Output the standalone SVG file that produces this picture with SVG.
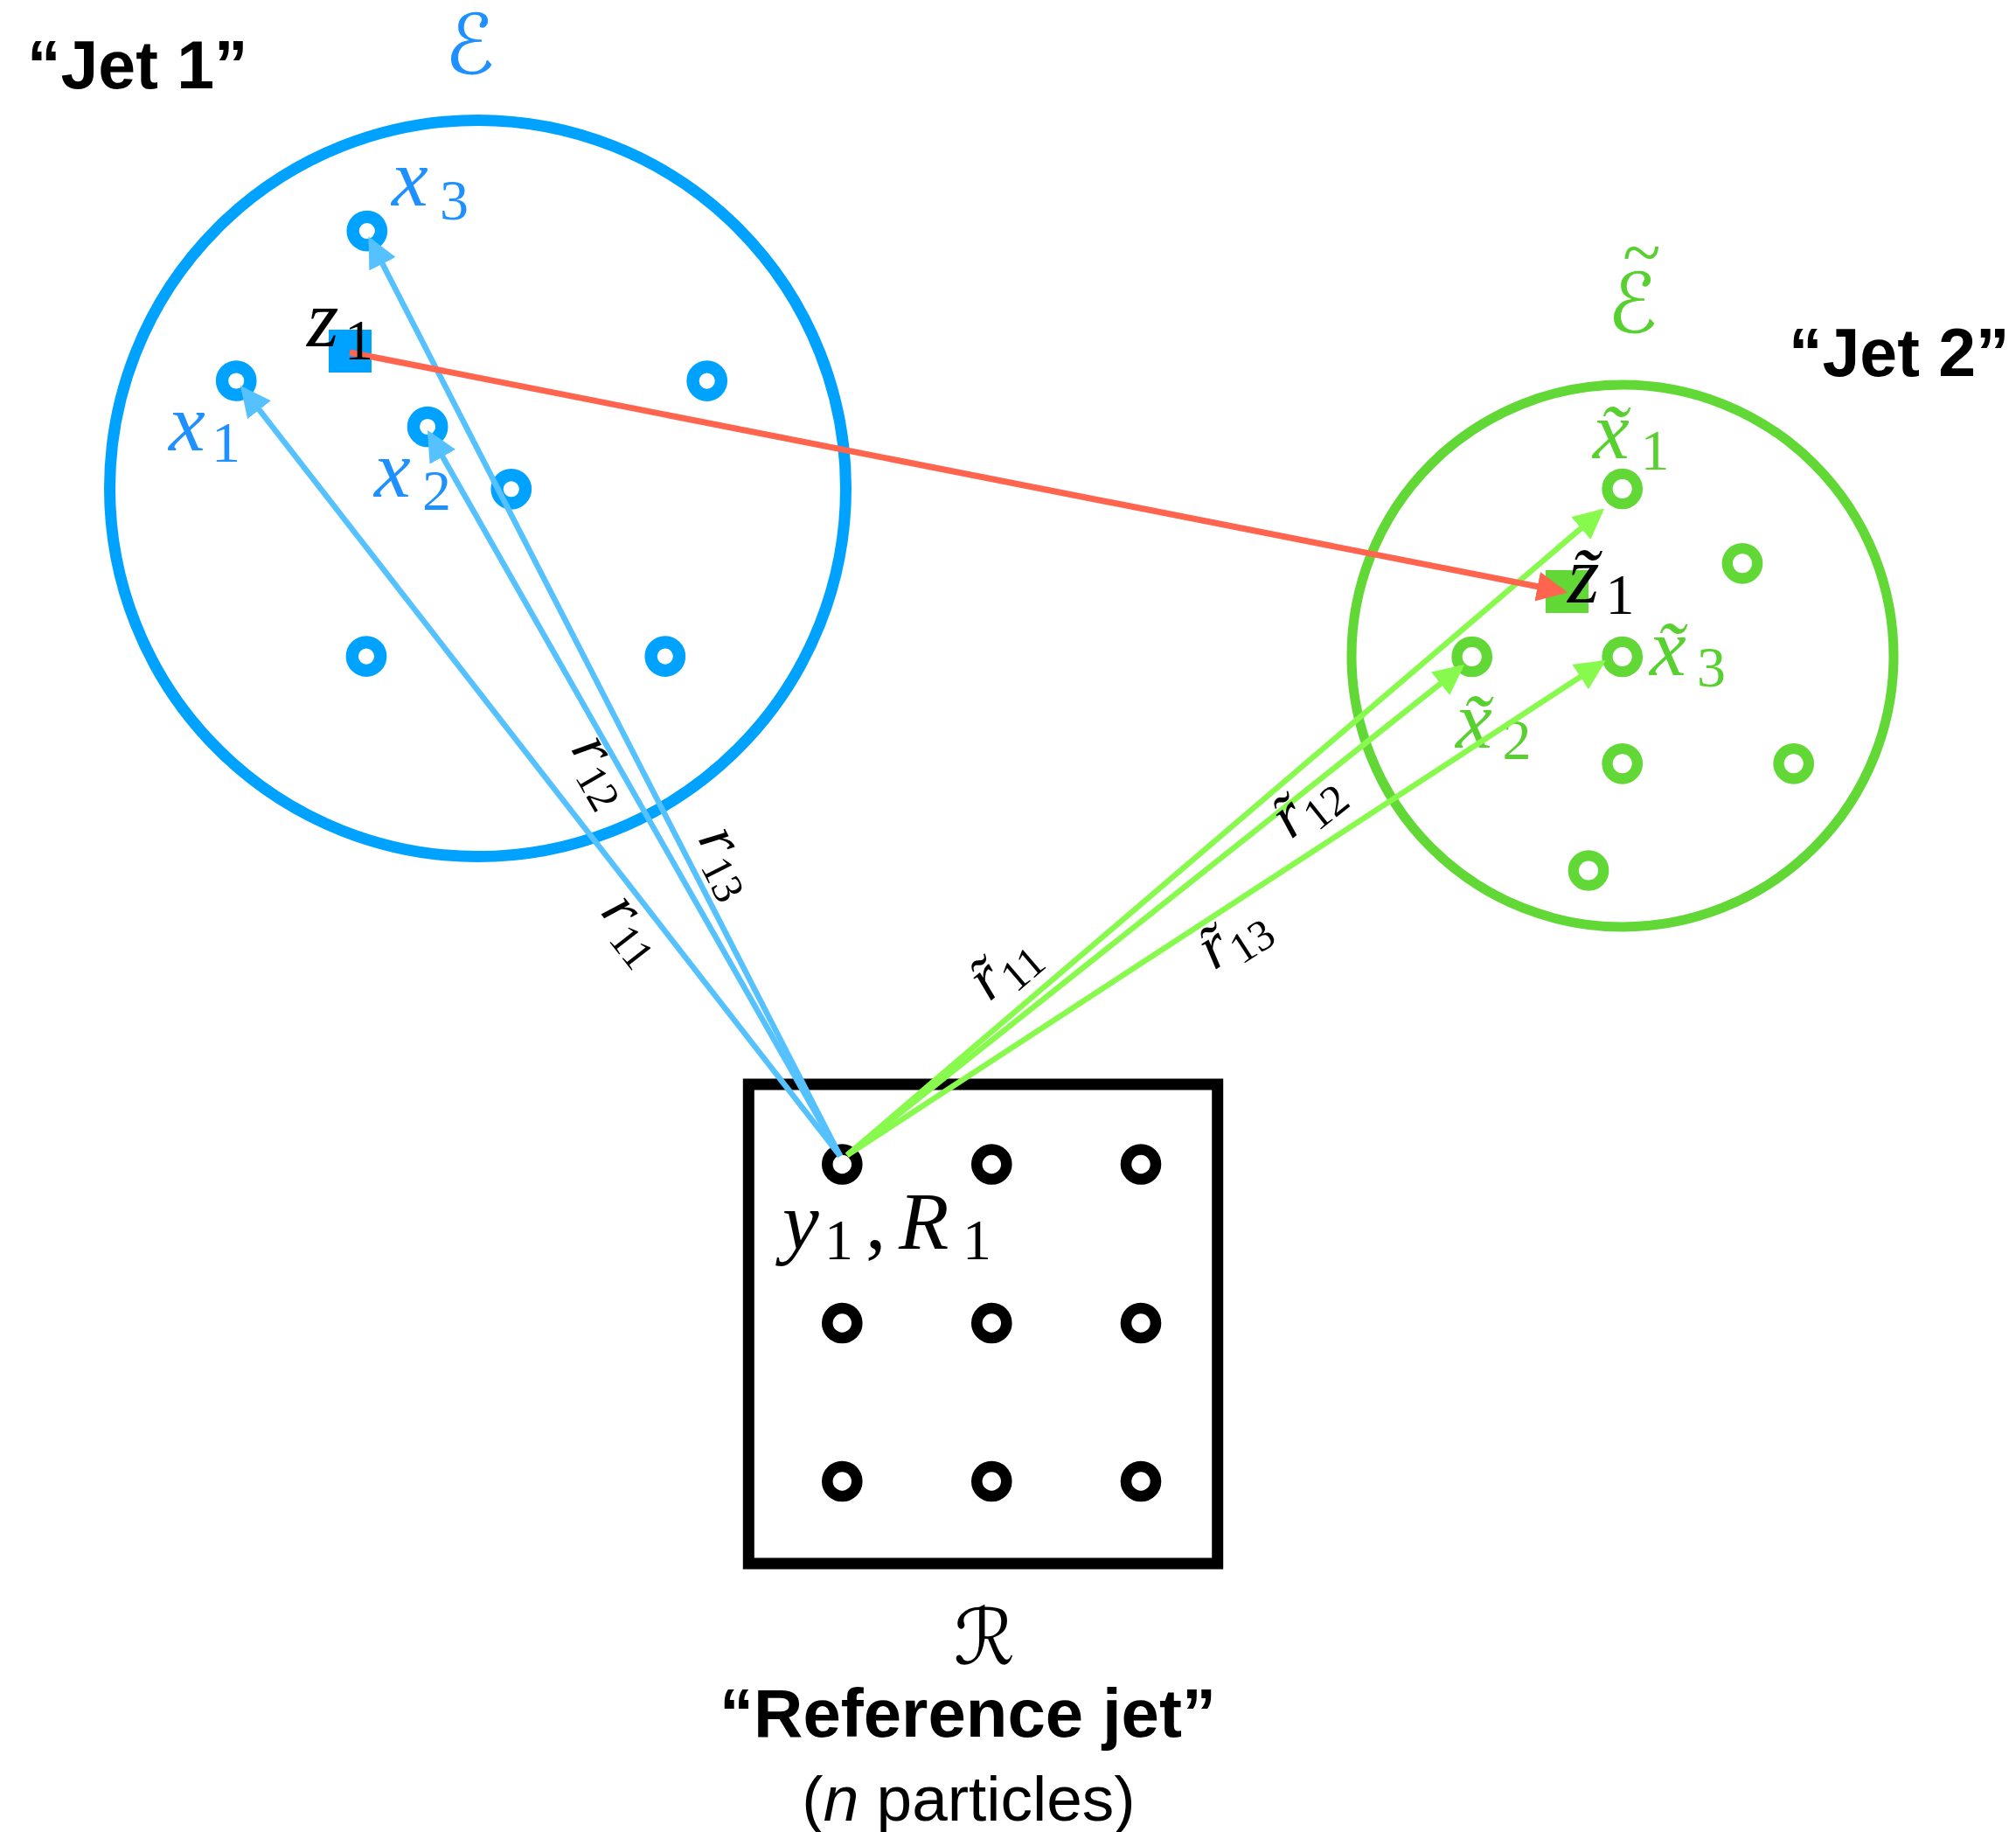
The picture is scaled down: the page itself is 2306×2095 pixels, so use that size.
<svg xmlns="http://www.w3.org/2000/svg" width="2306" height="2095" viewBox="0 0 2306 2095">
<style>
.bg{fill:#fff}
.jet{fill:none;stroke-width:13}
.pb{fill:none;stroke:#00A2FF;stroke-width:14.3}
.pg{fill:none;stroke:#61D836;stroke-width:12.3}
.pk{fill:none;stroke:#000;stroke-width:12.6}
.lb{fill:none;stroke:#56C1FF;stroke-width:6.5}
.lg{fill:none;stroke:#88FA4E;stroke-width:6.5}
.lr{fill:none;stroke:#FF644E;stroke-width:7}
.m{font-family:"Liberation Serif","DejaVu Serif",serif;font-style:italic;font-size:94px}
.s{font-family:"Liberation Serif","DejaVu Serif",serif;font-style:normal;font-size:66px}
.up{font-style:normal}
.rm{font-family:"Liberation Serif","DejaVu Serif",serif;font-style:italic;font-size:72px;fill:#000}
.rs{font-style:normal;font-size:50px}
.cal{font-family:"DejaVu Serif","DejaVu Sans",serif;font-size:95px;text-anchor:middle}
.tl{font-family:"Liberation Serif","DejaVu Serif",serif;font-size:80px}
.tb{fill:#1E90FF}
.tg{fill:#58D030}
.tk{fill:#000}
.bold{font-family:"Liberation Sans",Arial,sans-serif;font-weight:bold;font-size:77px;fill:#000}
.cap{font-family:"Liberation Sans",Arial,sans-serif;text-anchor:middle;fill:#000}
</style>
<defs>
<marker id="ab" markerUnits="userSpaceOnUse" markerWidth="36" markerHeight="36" refX="30" refY="17" orient="auto"><path d="M0,0 L35,17 L0,34 Z" fill="#56C1FF"/></marker>
<marker id="ag" markerUnits="userSpaceOnUse" markerWidth="36" markerHeight="36" refX="30" refY="17" orient="auto"><path d="M0,0 L35,17 L0,34 Z" fill="#88FA4E"/></marker>
<marker id="ar" markerUnits="userSpaceOnUse" markerWidth="36" markerHeight="36" refX="30" refY="17" orient="auto"><path d="M0,0 L35,17 L0,34 Z" fill="#FF644E"/></marker>
</defs>
<rect class="bg" x="0" y="0" width="2306" height="2095"/>

<g id="jet1">
<text class="bold" x="31" y="101">“Jet 1”</text>
<text class="cal tb" x="537" y="84">ℰ</text>
<circle class="jet" cx="546.5" cy="558.5" r="421" stroke="#00A2FF"/>
<circle class="pb" cx="419.8" cy="264.1" r="16.2"/>
<circle class="pb" cx="270.2" cy="435.5" r="16.2"/>
<circle class="pb" cx="489.1" cy="488" r="16.2"/>
<circle class="pb" cx="584.8" cy="559.3" r="16.2"/>
<circle class="pb" cx="808.7" cy="435.6" r="16.2"/>
<circle class="pb" cx="419" cy="750.6" r="16.2"/>
<circle class="pb" cx="760.8" cy="750.6" r="16.2"/>
<rect x="376" y="377" width="49" height="49" fill="#00A2FF"/>
<text class="m tb"><tspan x="448" y="235">x</tspan><tspan class="s" x="503" y="251">3</tspan></text>
<text class="m tb"><tspan x="193" y="515">x</tspan><tspan class="s" x="242" y="528">1</tspan></text>
<text class="m tb"><tspan x="428" y="568">x</tspan><tspan class="s" x="483" y="583">2</tspan></text>
</g>

<g id="jet2">
<text class="bold" x="2046" y="430">“Jet 2”</text>
<text class="cal tg" x="1867" y="380">ℰ<tspan class="tl" x="1878" y="316">~</tspan></text>
<circle class="jet" cx="1856" cy="750" r="310" stroke="#61D836" style="stroke-width:11"/>
<circle class="pg" cx="1855.7" cy="559" r="17.2"/>
<circle class="pg" cx="1993" cy="644.3" r="17.2"/>
<circle class="pg" cx="1855.7" cy="751" r="17.2"/>
<circle class="pg" cx="1683.7" cy="751" r="17.2"/>
<circle class="pg" cx="1855.7" cy="873.3" r="17.2"/>
<circle class="pg" cx="2051.7" cy="873.3" r="17.2"/>
<circle class="pg" cx="1817" cy="995.5" r="17.2"/>
<rect x="1768" y="652" width="49" height="49" fill="#61D836"/>
<text class="m tg"><tspan x="1822" y="524">x&#x303;</tspan><tspan class="s" x="1876.5" y="537">1</tspan></text>
<text class="m tg"><tspan x="1887" y="772">x&#x303;</tspan><tspan class="s" x="1941" y="785">3</tspan></text>
<text class="m tg"><tspan x="1665" y="855">x&#x303;</tspan><tspan class="s" x="1718.5" y="868">2</tspan></text>
</g>

<g id="reference">
<rect x="856.3" y="1240" width="536.4" height="548" fill="none" stroke="#000" stroke-width="13"/>
<circle class="pk" cx="963.3" cy="1331.5" r="17"/>
<circle class="pk" cx="1134.3" cy="1331.5" r="17"/>
<circle class="pk" cx="1305" cy="1331.5" r="17"/>
<circle class="pk" cx="963.3" cy="1513" r="17"/>
<circle class="pk" cx="1134.3" cy="1513" r="17"/>
<circle class="pk" cx="1305" cy="1513" r="17"/>
<circle class="pk" cx="963.3" cy="1694" r="17"/>
<circle class="pk" cx="1134.3" cy="1694" r="17"/>
<circle class="pk" cx="1305" cy="1694" r="17"/>
<text class="m tk"><tspan x="895" y="1428">y</tspan><tspan class="s" x="943" y="1440">1</tspan><tspan class="up" x="990" y="1428">,</tspan><tspan x="1028" y="1428">R</tspan><tspan class="s" x="1101" y="1440">1</tspan></text>
<text class="cal tk" x="1126" y="1903" style="font-size:88px">ℛ</text>
<text class="cap" x="1107" y="1986" style="font-weight:bold;font-size:78px">“Reference jet”</text>
<text class="cap" x="1108" y="2082" style="font-size:73px">(<tspan font-style="italic">n</tspan> particles)</text>
</g>

<g id="connectors">
<path class="lb" d="M961,1322 L278.1,445" marker-end="url(#ab)"/>
<path class="lb" d="M961,1322 L491.5,496.3" marker-end="url(#ab)"/>
<path class="lb" d="M961,1322 L423.8,275" marker-end="url(#ab)"/>
<path class="lg" d="M969,1321 L1831.2,584.7" marker-end="url(#ag)"/>
<path class="lg" d="M969,1321 L1671.1,763.1" marker-end="url(#ag)"/>
<path class="lg" d="M969,1321 L1832.8,757.7" marker-end="url(#ag)"/>
<path class="lr" d="M400,403 L1788.1,676.5" marker-end="url(#ar)"/>
</g>

<g id="labels">
<text class="m tk"><tspan x="351" y="396">z</tspan><tspan class="s" x="394" y="411">1</tspan></text>
<text class="m tk"><tspan x="1793" y="689">z&#x303;</tspan><tspan class="s" x="1836.5" y="702">1</tspan></text>
<text class="rm" transform="translate(717,1067) rotate(52)"><tspan x="-38" y="10">r</tspan><tspan class="rs" x="-8" y="22">11</tspan></text>
<text class="rm" transform="translate(680,884) rotate(60)"><tspan x="-38" y="10">r</tspan><tspan class="rs" x="-8" y="22">12</tspan></text>
<text class="rm" transform="translate(824,988) rotate(63)"><tspan x="-38" y="10">r</tspan><tspan class="rs" x="-8" y="22">13</tspan></text>
<text class="rm" transform="translate(1154,1114) rotate(-40.5)"><tspan x="-38" y="10">r&#x303;</tspan><tspan class="rs" x="-8" y="22">11</tspan></text>
<text class="rm" transform="translate(1500,929) rotate(-38.5)"><tspan x="-38" y="10">r&#x303;</tspan><tspan class="rs" x="-8" y="22">12</tspan></text>
<text class="rm" transform="translate(1415,1081) rotate(-33)"><tspan x="-38" y="10">r&#x303;</tspan><tspan class="rs" x="-8" y="22">13</tspan></text>
</g>
</svg>
